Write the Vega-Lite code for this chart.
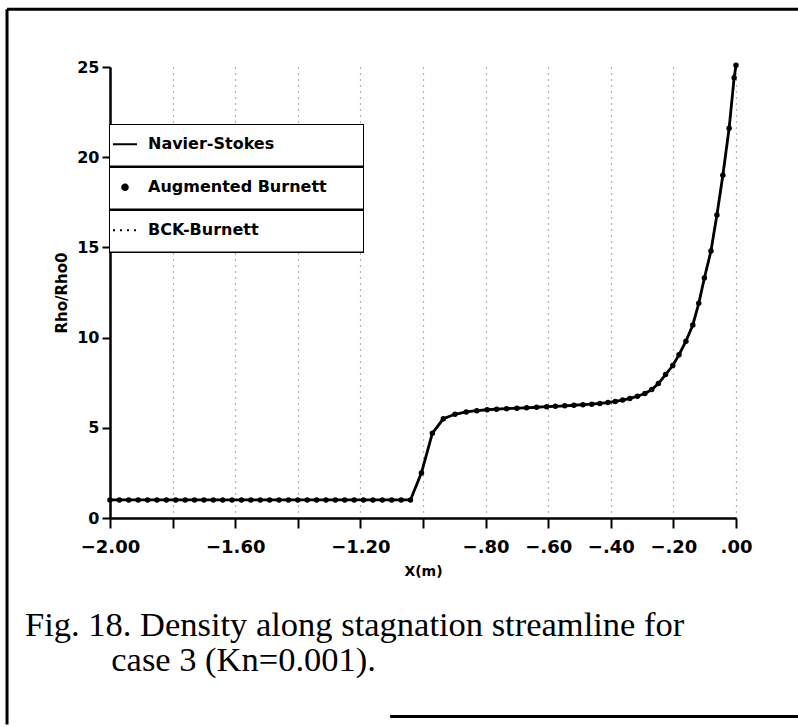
{
  "$schema": "https://vega.github.io/schema/vega-lite/v6.json",
  "width": 626,
  "height": 451,
  "autosize": {"type": "none"},
  "padding": {"left": 110, "top": 67, "right": 62, "bottom": 209},
  "background": "white",
  "config": {"view": {"stroke": null}, "font": "DejaVu Sans"},
  "title": {
    "text": ["Fig. 18. Density along stagnation streamline for", "\u2060\u00a0\u00a0\u00a0\u00a0\u00a0\u00a0\u00a0\u00a0\u00a0\u00a0case 3 (Kn=0.001)."],
    "orient": "bottom",
    "anchor": "start",
    "frame": "group",
    "font": "Liberation Serif",
    "fontSize": 34.5,
    "fontWeight": "normal",
    "color": "black",
    "lineHeight": 35,
    "baseline": "alphabetic",
    "dx": -85,
    "offset": -90
  },
  "data": {
    "values": [
      {"x": -2.00, "rho": 1.0}, {"x": -1.97, "rho": 1.0}, {"x": -1.94, "rho": 1.0}, {"x": -1.91, "rho": 1.0},
      {"x": -1.88, "rho": 1.0}, {"x": -1.85, "rho": 1.0}, {"x": -1.82, "rho": 1.0}, {"x": -1.79, "rho": 1.0},
      {"x": -1.76, "rho": 1.0}, {"x": -1.73, "rho": 1.0}, {"x": -1.70, "rho": 1.0}, {"x": -1.67, "rho": 1.0},
      {"x": -1.64, "rho": 1.0}, {"x": -1.61, "rho": 1.0}, {"x": -1.58, "rho": 1.0}, {"x": -1.55, "rho": 1.0},
      {"x": -1.52, "rho": 1.0}, {"x": -1.49, "rho": 1.0}, {"x": -1.46, "rho": 1.0}, {"x": -1.43, "rho": 1.0},
      {"x": -1.40, "rho": 1.0}, {"x": -1.37, "rho": 1.0}, {"x": -1.34, "rho": 1.0}, {"x": -1.31, "rho": 1.0},
      {"x": -1.28, "rho": 1.0}, {"x": -1.25, "rho": 1.0}, {"x": -1.22, "rho": 1.0}, {"x": -1.19, "rho": 1.0},
      {"x": -1.16, "rho": 1.0}, {"x": -1.13, "rho": 1.0}, {"x": -1.10, "rho": 1.0}, {"x": -1.07, "rho": 1.0},
      {"x": -1.04, "rho": 1.0},
      {"x": -1.005, "rho": 2.5}, {"x": -0.970, "rho": 4.7}, {"x": -0.935, "rho": 5.5}, {"x": -0.898, "rho": 5.75},
      {"x": -0.862, "rho": 5.88}, {"x": -0.828, "rho": 5.95}, {"x": -0.795, "rho": 6.0}, {"x": -0.765, "rho": 6.03},
      {"x": -0.733, "rho": 6.06}, {"x": -0.700, "rho": 6.09}, {"x": -0.669, "rho": 6.11}, {"x": -0.637, "rho": 6.14},
      {"x": -0.605, "rho": 6.17}, {"x": -0.577, "rho": 6.19}, {"x": -0.547, "rho": 6.22}, {"x": -0.518, "rho": 6.25},
      {"x": -0.489, "rho": 6.28}, {"x": -0.461, "rho": 6.31}, {"x": -0.435, "rho": 6.35}, {"x": -0.409, "rho": 6.4},
      {"x": -0.386, "rho": 6.46}, {"x": -0.362, "rho": 6.54}, {"x": -0.339, "rho": 6.63}, {"x": -0.315, "rho": 6.75},
      {"x": -0.291, "rho": 6.9}, {"x": -0.269, "rho": 7.12}, {"x": -0.248, "rho": 7.45}, {"x": -0.225, "rho": 7.95},
      {"x": -0.202, "rho": 8.45}, {"x": -0.182, "rho": 9.05}, {"x": -0.160, "rho": 9.8}, {"x": -0.138, "rho": 10.7},
      {"x": -0.119, "rho": 11.9}, {"x": -0.101, "rho": 13.3}, {"x": -0.080, "rho": 14.8}, {"x": -0.061, "rho": 16.8},
      {"x": -0.042, "rho": 19.0}, {"x": -0.022, "rho": 21.6}, {"x": -0.006, "rho": 24.4}, {"x": 0.0, "rho": 25.1}
    ]
  },
  "layer": [
    {
      "mark": {"type": "line", "strokeWidth": 2.8, "color": "black"},
      "encoding": {
        "x": {
          "field": "x", "type": "quantitative",
          "scale": {"domain": [-2, 0], "nice": false, "zero": false},
          "axis": {
            "title": "X(m)",
            "values": [-2, -1.8, -1.6, -1.4, -1.2, -1, -0.8, -0.6, -0.4, -0.2, 0],
            "labelExpr": "abs(datum.value + 1.8) < 0.01 || abs(datum.value + 1.4) < 0.01 || abs(datum.value + 1) < 0.01 ? '' : replace(format(datum.value, '.2f'), '0.', '.')",
            "labelFont": "DejaVu Sans", "labelFontSize": 18, "labelFontWeight": "bold", "labelColor": "black",
            "labelPadding": 10, "labelFlush": false, "labelOverlap": false,
            "titleFont": "DejaVu Sans", "titleFontSize": 14, "titleFontWeight": "bold", "titleColor": "black",
            "titlePadding": 8,
            "domainColor": "black", "domainWidth": 2.5,
            "tickColor": "black", "tickWidth": 2, "tickSize": 10,
            "grid": true, "gridColor": "black", "gridDash": [1, 5], "gridWidth": 1.2, "gridOpacity": 0.6
          }
        },
        "y": {
          "field": "rho", "type": "quantitative",
          "scale": {"domain": [0, 25], "nice": false, "zero": false},
          "axis": {
            "title": "Rho/Rho0",
            "values": [0, 5, 10, 15, 20, 25],
            "labelFont": "DejaVu Sans", "labelFontSize": 16, "labelFontWeight": "bold", "labelColor": "black",
            "labelPadding": 3, "labelFlush": false,
            "titleFont": "DejaVu Sans", "titleFontSize": 15, "titleFontWeight": "bold", "titleColor": "black",
            "titlePadding": 7,
            "domainColor": "black", "domainWidth": 2.5,
            "tickColor": "black", "tickWidth": 2, "tickSize": 8,
            "grid": false
          }
        },
        "color": {
          "datum": "Navier-Stokes", "type": "nominal",
          "scale": {"domain": ["Navier-Stokes", "Augmented Burnett", "BCK-Burnett"], "range": ["black", "black", "black"]},
          "legend": {
            "title": null,
            "orient": "none",
            "legendX": 0,
            "legendY": 58,
            "padding": 0,
            "strokeColor": "black",
            "fillColor": "black",
            "symbolSize": 576,
            "labelOffset": 8,
            "labelLimit": 400,
            "labelFont": "DejaVu Sans",
            "labelFontSize": 16,
            "labelFontWeight": "bold",
            "labelColor": "black",
            "rowPadding": 0,
            "encode": {
              "legend": {"update": {"strokeWidth": {"value": 2}}},
              "entries": {"update": {
                "fill": {"value": "white"}
              }},
              "symbols": {"update": {
                "x": {"value": 15},
                "y": {"value": 19.25},
                "shape": {"signal": "datum.value === 'Augmented Burnett' ? 'M-0.23,0A0.23,0.23,0,1,0,0.23,0A0.23,0.23,0,1,0,-0.23,0ZM0,-1.437M0,1.437M19.5,0' : 'M-1,0L1,0M0,-1.437M0,1.437M19.5,0'"},
                "size": {"value": 576},
                "fill": {"signal": "datum.value === 'Augmented Burnett' ? 'black' : 'transparent'"},
                "stroke": {"signal": "datum.value === 'Augmented Burnett' ? 'transparent' : 'black'"},
                "strokeWidth": {"value": 2},
                "strokeDash": {"signal": "datum.value === 'BCK-Burnett' ? [2, 5] : [1, 0]"},
                "opacity": {"value": 1}
              }},
              "labels": {"update": {
                "x": {"value": 38},
                "y": {"value": 19.25},
                "baseline": {"value": "middle"},
                "align": {"value": "left"}
              }}
            }
          }
        }
      }
    },
    {
      "mark": {"type": "line", "strokeWidth": 2, "strokeDash": [2, 5], "color": "black"},
      "encoding": {
        "x": {"field": "x", "type": "quantitative", "scale": {"domain": [-2, 0], "nice": false, "zero": false}},
        "y": {"field": "rho", "type": "quantitative", "scale": {"domain": [0, 25], "nice": false, "zero": false}},
        "color": {"datum": "BCK-Burnett", "type": "nominal"}
      }
    },
    {
      "mark": {"type": "point", "filled": true, "size": 30, "opacity": 1, "color": "black"},
      "encoding": {
        "x": {"field": "x", "type": "quantitative", "scale": {"domain": [-2, 0], "nice": false, "zero": false}},
        "y": {"field": "rho", "type": "quantitative", "scale": {"domain": [0, 25], "nice": false, "zero": false}},
        "color": {"datum": "Augmented Burnett", "type": "nominal"}
      }
    },
    {
      "data": {"values": [{}]},
      "mark": {"type": "rule", "strokeWidth": 3, "color": "black"},
      "encoding": {
        "x": {"datum": -2.329, "type": "quantitative", "scale": {"domain": [-2, 0], "nice": false, "zero": false}},
        "y": {"datum": 28.2, "type": "quantitative", "scale": {"domain": [0, 25], "nice": false, "zero": false}},
        "y2": {"datum": -11.45}
      }
    },
    {
      "data": {"values": [{}]},
      "mark": {"type": "rule", "strokeWidth": 3, "color": "black"},
      "encoding": {
        "x": {"datum": -2.329, "type": "quantitative", "scale": {"domain": [-2, 0], "nice": false, "zero": false}},
        "x2": {"datum": 0.2},
        "y": {"datum": 28.2, "type": "quantitative", "scale": {"domain": [0, 25], "nice": false, "zero": false}}
      }
    },
    {
      "data": {"values": [{}]},
      "mark": {"type": "rule", "strokeWidth": 3, "color": "black"},
      "encoding": {
        "x": {"datum": -1.105, "type": "quantitative", "scale": {"domain": [-2, 0], "nice": false, "zero": false}},
        "x2": {"datum": 0.2},
        "y": {"datum": -11.0, "type": "quantitative", "scale": {"domain": [0, 25], "nice": false, "zero": false}}
      }
    }
  ]
}
